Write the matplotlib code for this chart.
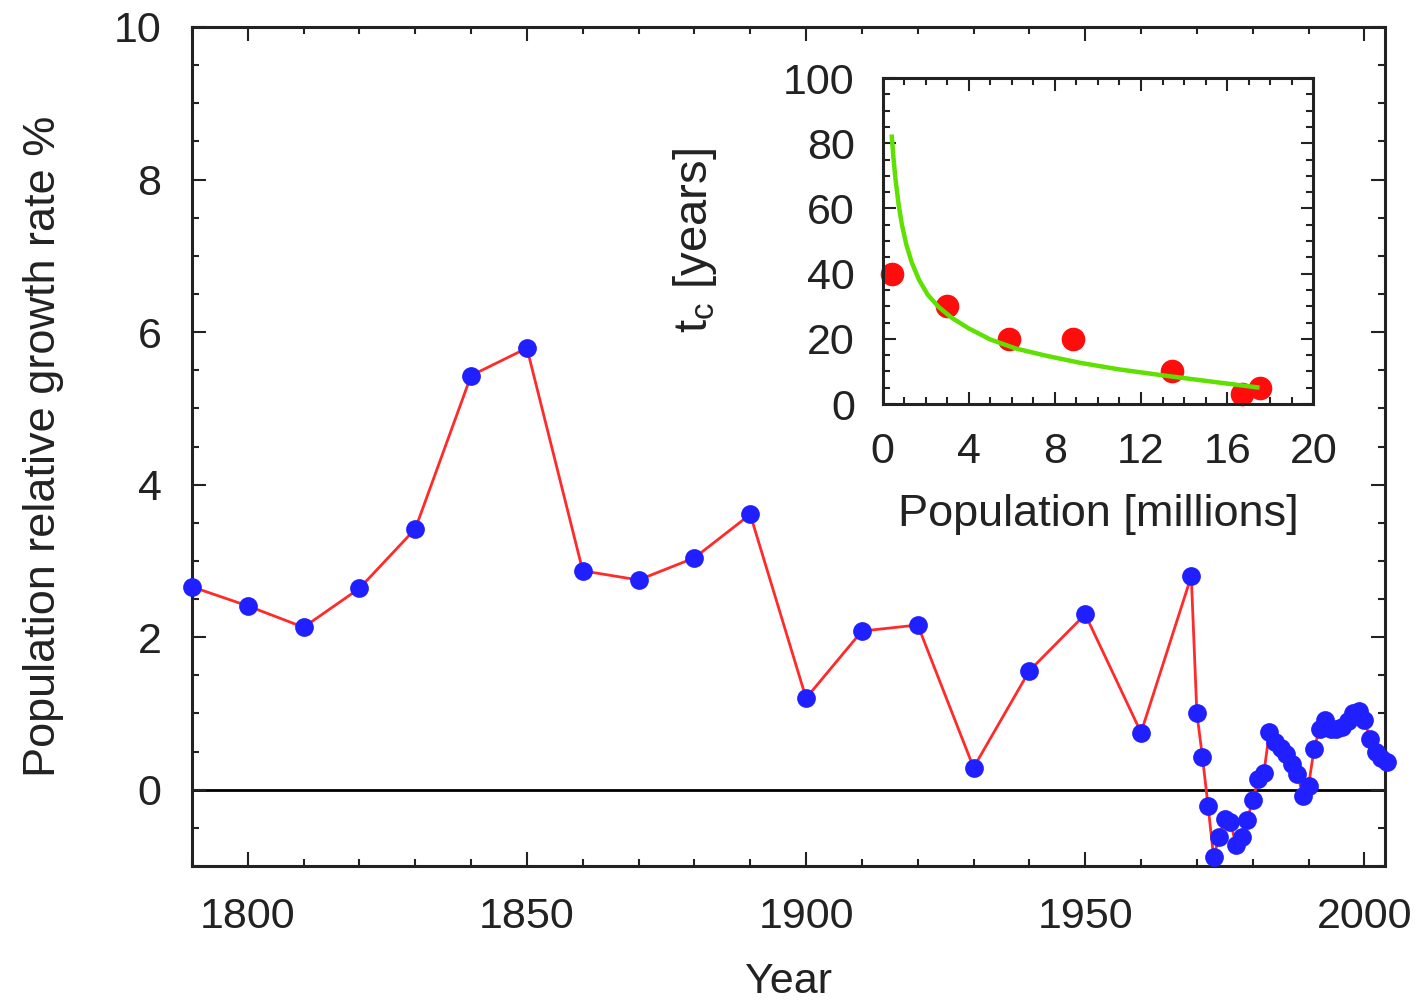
import matplotlib
matplotlib.use("Agg")
import matplotlib.pyplot as plt
from matplotlib.ticker import MultipleLocator

plt.rcParams["font.family"] = ["Liberation Sans", "DejaVu Sans"]
plt.rcParams["mathtext.fontset"] = "custom"
plt.rcParams["mathtext.rm"] = "Liberation Sans"
plt.rcParams["mathtext.it"] = "Liberation Sans"

# Relative growth rate of the population (% per year)
decade_years = [1790, 1800, 1810, 1820, 1830, 1840, 1850, 1860, 1870, 1880,
                1890, 1900, 1910, 1920, 1930, 1940, 1950, 1960]
decade_rates = [2.66, 2.41, 2.13, 2.64, 3.42, 5.43, 5.79, 2.87, 2.75, 3.04,
                3.61, 1.20, 2.08, 2.16, 0.29, 1.56, 2.30, 0.75]

annual_years = list(range(1969, 2005))
annual_rates = [2.80, 1.00, 0.43, -0.21, -0.88, -0.62, -0.38, -0.42, -0.72, -0.62,
                -0.40, -0.14, 0.14, 0.22, 0.76, 0.62, 0.55, 0.47, 0.34, 0.21,
                -0.08, 0.05, 0.54, 0.80, 0.92, 0.80, 0.80, 0.82, 0.90, 1.00,
                1.03, 0.92, 0.67, 0.50, 0.42, 0.36]

years = decade_years + annual_years
rates = decade_rates + annual_rates

# Inset: characteristic time t_c versus population
pop_millions = [0.43, 2.98, 5.88, 8.83, 13.46, 16.68, 17.53]
tc_years = [40, 30, 20, 20, 10, 3, 5]

# Fitted t_c curve
fit_pop = [0.43, 0.5, 0.6, 0.75, 0.9, 1.1, 1.35, 1.7, 2.1, 2.6, 3.2, 4.0,
           5.0, 6.2, 7.6, 9.2, 11.0, 13.0, 15.0, 17.4]
fit_tc = [82, 76, 69, 61, 55, 49, 43.5, 38, 33.5, 29.8, 26.5, 23.2,
          19.8, 17.0, 14.8, 12.6, 10.6, 8.8, 7.1, 5.1]

FS = 31

fig = plt.figure(figsize=(14.23, 10.0), dpi=100)
ax = fig.add_axes([0.1349, 0.134, 0.8384, 0.839])

ax.axhline(0, color="black", lw=2.0, zorder=1)
ax.plot(years, rates, color="#ff2a2a", lw=2.0, zorder=2)
ax.plot(years, rates, ls="none", marker="o", ms=13.5, color="#1f1fff",
        markeredgewidth=0, zorder=3, clip_on=False)

ax.set_xlim(1790, 2003.7)
ax.set_ylim(-1, 10)
ax.xaxis.set_major_locator(MultipleLocator(50))
ax.xaxis.set_minor_locator(MultipleLocator(10))
ax.yaxis.set_major_locator(MultipleLocator(2))
ax.yaxis.set_minor_locator(MultipleLocator(0.5))
ax.tick_params(which="both", direction="in", top=True, right=True,
               labelsize=FS, colors="#222222", width=1.5)
ax.tick_params(which="major", length=10, pad=22)
ax.tick_params(which="minor", length=5)
for s in ax.spines.values():
    s.set_linewidth(2.2)
    s.set_color("#222222")
ax.set_xlabel("Year", fontsize=FS, color="#222222", labelpad=18)
ax.set_ylabel("Population relative growth rate %", fontsize=32.5,
              color="#222222", labelpad=36)

# Inset
ins = fig.add_axes([0.6202, 0.596, 0.3027, 0.326])
ins.plot(pop_millions, tc_years, ls="none", marker="o", ms=17,
         color="#ff0d0d", markeredgewidth=0, zorder=2, clip_on=False)
ins.plot(fit_pop, fit_tc, color="#5ee000", lw=3.2, zorder=3,
         solid_joinstyle="round")
ins.set_xlim(0, 20)
ins.set_ylim(0, 100)
ins.xaxis.set_major_locator(MultipleLocator(4))
ins.xaxis.set_minor_locator(MultipleLocator(1))
ins.yaxis.set_major_locator(MultipleLocator(20))
ins.yaxis.set_minor_locator(MultipleLocator(5))
ins.tick_params(which="both", direction="in", top=True, right=True,
                labelsize=FS, colors="#222222", width=1.5)
ins.tick_params(which="major", length=9, pad=20)
ins.tick_params(which="minor", length=5)
for s in ins.spines.values():
    s.set_linewidth(2.2)
    s.set_color("#222222")
ins.set_xlabel("Population [millions]", fontsize=32.5, color="#222222",
               labelpad=16)
ins.set_ylabel(r"$\mathregular{t_c}$ [years]", fontsize=34, color="#222222",
               labelpad=46)

fig.savefig("out.png", dpi=100, facecolor="white")
